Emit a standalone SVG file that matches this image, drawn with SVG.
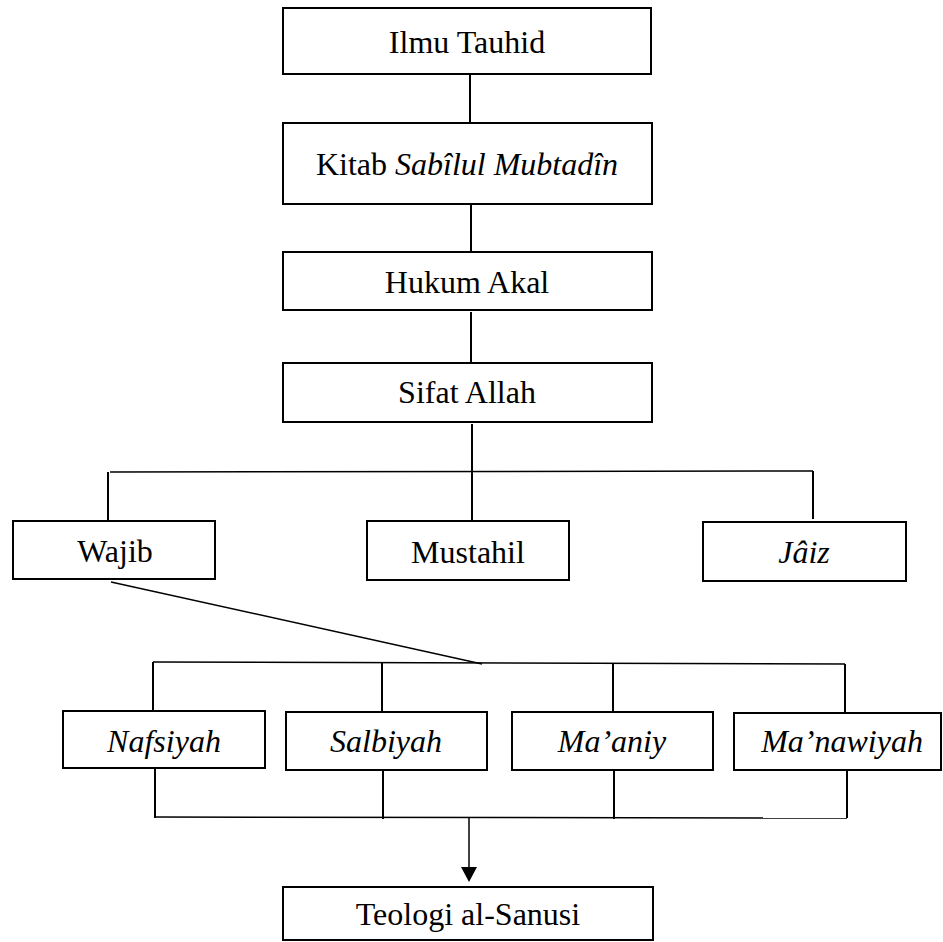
<svg xmlns="http://www.w3.org/2000/svg" width="943" height="942" viewBox="0 0 943 942">
<style>
.box{fill:#fff;stroke:#000;stroke-width:2}
.t{font-family:"Liberation Serif","Times New Roman",serif;font-size:32px;fill:#000;text-anchor:middle}
.i{font-style:italic}
.c{stroke:#000;fill:none;stroke-width:2}
.h{stroke:#000;fill:none;stroke-width:1.5}
</style>
<defs>
<marker id="arr" markerUnits="userSpaceOnUse" markerWidth="16" markerHeight="16" refX="8" refY="15" orient="auto-start-reverse" viewBox="0 0 16 16">
<path d="M0,0 L16,0 L8,15 Z" fill="#000"/>
</marker>
</defs>
<rect width="943" height="942" fill="#fff"/>
<g id="connectors">
<line class="c" x1="470" y1="74" x2="470" y2="123"/>
<line class="c" x1="471" y1="204" x2="471" y2="252"/>
<line class="c" x1="471" y1="312" x2="471" y2="362"/>
<line class="c" x1="472" y1="424" x2="472" y2="520"/>
<line class="h" x1="110" y1="472" x2="813" y2="471"/>
<line class="c" x1="108" y1="472" x2="108" y2="521"/>
<line class="c" x1="813" y1="471" x2="813" y2="519"/>
<line class="h" x1="111" y1="582" x2="482" y2="664"/>
<line class="h" x1="153" y1="662" x2="845" y2="664"/>
<line class="c" x1="153" y1="662" x2="153" y2="711"/>
<line class="c" x1="382" y1="663" x2="382" y2="712"/>
<line class="c" x1="613" y1="663" x2="613" y2="712"/>
<line class="c" x1="845" y1="664" x2="845" y2="713"/>
<line class="c" x1="155" y1="768" x2="155" y2="818"/>
<line class="c" x1="383" y1="770" x2="383" y2="819"/>
<line class="c" x1="614" y1="770" x2="614" y2="819"/>
<line class="c" x1="847" y1="770" x2="847" y2="818"/>
<line class="h" x1="155" y1="817" x2="847" y2="818"/>
<line x1="469" y1="818" x2="469" y2="868" stroke="#000" stroke-width="1.5"/>
<path d="M461,867 L477,867 L469,882 Z" fill="#000"/>
</g>
<g id="n1"><rect class="box" x="283" y="8" width="368" height="66"/><text class="t" x="467" y="53">Ilmu Tauhid</text></g>
<g id="n2"><rect class="box" x="283" y="123" width="369" height="81"/><text class="t" x="467" y="175">Kitab <tspan class="i">Sabîlul Mubtadîn</tspan></text></g>
<g id="n3"><rect class="box" x="283" y="252" width="369" height="58"/><text class="t" x="467" y="293">Hukum Akal</text></g>
<g id="n4"><rect class="box" x="283" y="363" width="369" height="59"/><text class="t" x="467" y="403">Sifat Allah</text></g>
<g id="n5"><rect class="box" x="13" y="521" width="202" height="58"/><text class="t" x="115" y="562">Wajib</text></g>
<g id="n6"><rect class="box" x="367" y="521" width="202" height="59"/><text class="t" x="468" y="563">Mustahil</text></g>
<g id="n7"><rect class="box" x="703" y="522" width="203" height="59"/><text class="t i" x="804" y="563">Jâiz</text></g>
<g id="n8"><rect class="box" x="63" y="711" width="202" height="57"/><text class="t i" x="164" y="752">Nafsiyah</text></g>
<g id="n9"><rect class="box" x="286" y="712" width="201" height="58"/><text class="t i" x="386" y="752">Salbiyah</text></g>
<g id="n10"><rect class="box" x="512" y="712" width="201" height="58"/><text class="t i" x="612" y="752">Ma’aniy</text></g>
<g id="n11"><rect class="box" x="734" y="713" width="207" height="57"/><text class="t i" x="842" y="752">Ma’nawiyah</text></g>
<g id="n12"><rect class="box" x="283" y="887" width="370" height="53"/><text class="t" x="468" y="925">Teologi al-Sanusi</text></g>
</svg>
